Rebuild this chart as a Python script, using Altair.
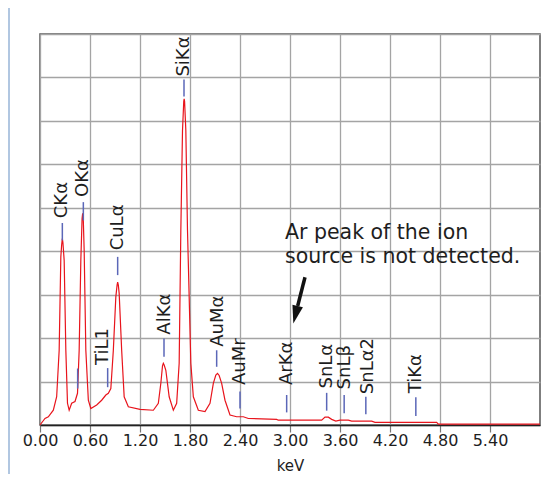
import altair as alt
import pandas as pd

# ---- spectrum (keV vs. counts, arbitrary units: 1 grid division = 1) ----
energy = [0.00, 0.06, 0.10, 0.16, 0.20, 0.23, 0.25, 0.26, 0.268, 0.275, 0.29, 0.31, 0.33, 0.35,
          0.38, 0.42, 0.45, 0.47, 0.49, 0.505, 0.512, 0.52, 0.53, 0.55, 0.58, 0.61, 0.68,
          0.74, 0.79, 0.82, 0.85, 0.88, 0.91, 0.925, 0.932, 0.94, 0.95, 0.98, 1.01, 1.06,
          1.20, 1.36, 1.42, 1.45, 1.47, 1.48, 1.49, 1.51, 1.55, 1.60, 1.64, 1.67, 1.69,
          1.71, 1.725, 1.73, 1.735, 1.75, 1.77, 1.81, 1.84, 1.90, 1.98, 2.04, 2.08, 2.11,
          2.13, 2.15, 2.18, 2.22, 2.28, 2.36, 2.44, 2.50, 2.84, 2.86, 3.38, 3.42, 3.46,
          3.50, 3.55, 3.60, 3.70, 3.74, 3.98, 4.02, 4.76, 4.78, 6.00]
counts = [0.00, 0.15, 0.19, 0.34, 0.65, 1.72, 3.87, 4.15, 4.29, 4.20, 3.79, 1.72, 0.50, 0.34,
          0.50, 0.54, 0.73, 1.72, 3.79, 4.75, 4.87, 4.70, 4.02, 1.72, 0.57, 0.38, 0.46,
          0.57, 0.69, 0.73, 0.84, 1.72, 2.95, 3.22, 3.29, 3.22, 3.03, 1.72, 0.65, 0.42,
          0.36, 0.34, 0.50, 0.96, 1.36, 1.42, 1.38, 1.26, 0.65, 0.34, 0.50, 1.42, 4.48,
          6.78, 7.45, 7.51, 7.45, 6.78, 4.48, 1.42, 0.65, 0.34, 0.31, 0.50, 0.96, 1.15,
          1.19, 1.14, 0.96, 0.57, 0.23, 0.19, 0.19, 0.15, 0.13, 0.11, 0.11, 0.18, 0.18,
          0.13, 0.09, 0.11, 0.11, 0.09, 0.09, 0.06, 0.06, 0.02, 0.02]

# ---- peak labels ----
label_text = ["CKα", "OKα", "", "TiL1", "CuLα", "AlKα", "SiKα", "AuMα", "AuMr",
              "ArKα", "SnLα", "SnLβ", "SnLα2", "TiKα"]
label_x = [0.268, 0.52, 0.452, 0.75, 0.93, 1.50, 1.728, 2.14, 2.40,
           2.965, 3.44, 3.66, 3.93, 4.51]
label_y = [4.76, 5.25, 1.40, 1.38, 4.02, 2.08, 8.02, 1.80, 0.92,
           0.92, 0.84, 0.82, 0.71, 0.73]
marker_x = [0.268, 0.52, 0.452, 0.812, 0.932, 1.488, 1.728, 2.12, 2.40,
            2.96, 3.44, 3.65, 3.91, 4.51]
marker_lo = [4.25, 4.71, 0.84, 0.87, 3.45, 1.57, 7.56, 1.34, 0.38,
             0.29, 0.33, 0.27, 0.25, 0.21]
marker_hi = [4.65, 5.13, 1.30, 1.31, 3.87, 1.99, 7.95, 1.72, 0.77,
             0.69, 0.74, 0.69, 0.65, 0.64]

# ---- note and arrow ----
note_lines = ["Ar peak of the ion", "source is not detected."]
note_x = [2.94, 2.94]
note_y = [4.27, 3.72]
arrow_start = (3.18, 3.40)
arrow_base = (3.092, 2.74)
arrow_head = (3.066, 2.538)

x_ticks = [0.0, 0.6, 1.2, 1.8, 2.4, 3.0, 3.6, 4.2, 4.8, 5.4]
y_grid = list(range(10))

W, H = 500, 391
xs = alt.Scale(domain=[0, 6], nice=False, zero=False)
ys = alt.Scale(domain=[0, 9], nice=False, zero=False)
xa = alt.Axis(values=x_ticks, format=".2f", title="keV", grid=True,
              labelFlush=False, labelOverlap=False,
              labelFont="DejaVu Sans", labelFontSize=16, labelColor="#1e1e1e",
              labelPadding=0, tickSize=7, tickColor="#777", tickWidth=1.2,
              domainColor="#222", domainWidth=1.6,
              titleFont="DejaVu Sans", titleFontSize=15,
              titleFontWeight="normal", titleColor="#1e1e1e", titlePadding=10)
ya = alt.Axis(values=y_grid, grid=True, labels=False, ticks=False,
              domain=False, title=None)

spec_df = pd.DataFrame({"keV": energy, "counts": counts})
lab_df = pd.DataFrame({"t": label_text, "x": label_x, "y": label_y,
                       "mx": marker_x, "lo": marker_lo, "hi": marker_hi})
note_df = pd.DataFrame({"t": note_lines, "x": note_x, "y": note_y})
shaft_df = pd.DataFrame({"x": [arrow_start[0]], "y": [arrow_start[1]],
                         "x2": [arrow_base[0]], "y2": [arrow_base[1]]})
head_df = pd.DataFrame({"x": [arrow_head[0]], "y": [arrow_head[1]]})

strip = alt.Chart(pd.DataFrame({"a": [0]})).mark_rect(color="#b1c7e1").encode(
    x=alt.value(-32), x2=alt.value(-30), y=alt.value(-26), y2=alt.value(440))

line = alt.Chart(spec_df).mark_line(color="#e8141c", strokeWidth=1.2).encode(
    x=alt.X("keV:Q", scale=xs, axis=xa),
    y=alt.Y("counts:Q", scale=ys, axis=ya),
)

markers = alt.Chart(lab_df).mark_rule(color="#5b67b8", strokeWidth=1.5).encode(
    x=alt.X("mx:Q", scale=xs, axis=xa),
    y=alt.Y("lo:Q", scale=ys, axis=ya),
    y2="hi:Q",
)

labels = alt.Chart(lab_df).mark_text(angle=270, align="left", baseline="middle",
                                     font="DejaVu Sans", fontSize=18,
                                     color="#1e1e1e").encode(
    x=alt.X("x:Q", scale=xs, axis=xa),
    y=alt.Y("y:Q", scale=ys, axis=ya),
    text="t:N",
)

note = alt.Chart(note_df).mark_text(align="left", baseline="alphabetic",
                                    font="DejaVu Sans", fontSize=20.5,
                                    color="#1e1e1e").encode(
    x=alt.X("x:Q", scale=xs, axis=xa),
    y=alt.Y("y:Q", scale=ys, axis=ya),
    text="t:N",
)

shaft = alt.Chart(shaft_df).mark_rule(color="#111", strokeWidth=3.5).encode(
    x=alt.X("x:Q", scale=xs, axis=xa),
    y=alt.Y("y:Q", scale=ys, axis=ya),
    x2="x2:Q", y2="y2:Q",
)

head = alt.Chart(head_df).mark_point(
    shape="M -0.6 -1 L 0.6 -1 L 0 1 Z", size=324, filled=True, opacity=1,
    color="#111", angle=14).encode(
    x=alt.X("x:Q", scale=xs, axis=xa),
    y=alt.Y("y:Q", scale=ys, axis=ya),
)

chart = alt.layer(strip, line, markers, labels, note, shaft, head).properties(
    width=W, height=H,
    autosize=alt.AutoSizeParams(type="none"),
    padding={"left": 32, "top": 26, "right": 9, "bottom": 49},
    background="white",
).configure_view(stroke="#555", strokeWidth=1.5).configure_axis(
    gridColor="#a4a4a4", gridWidth=1.3, gridOpacity=1)

chart.save("out.html", embed_options={"renderer": "svg", "actions": False})
